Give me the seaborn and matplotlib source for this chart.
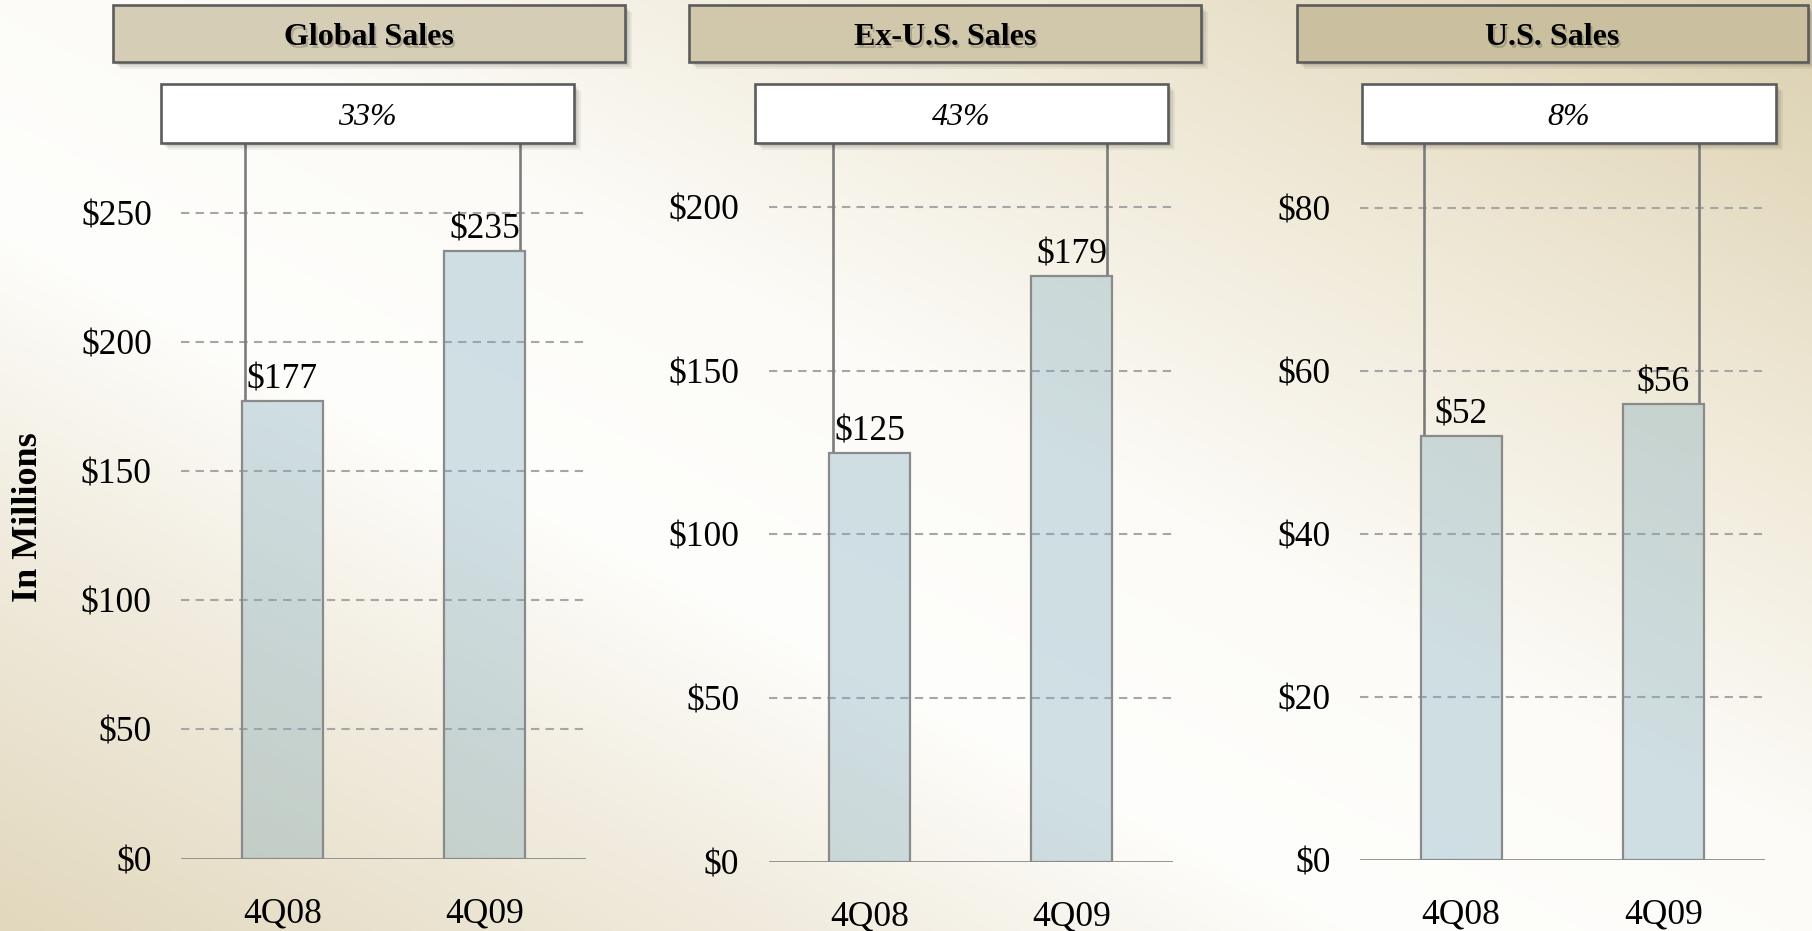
import numpy as np
import pandas as pd
import matplotlib
matplotlib.use("Agg")
import matplotlib.pyplot as plt
from matplotlib.colors import LinearSegmentedColormap
from matplotlib.patches import Rectangle
import seaborn as sns

# ---- data -------------------------------------------------------------
quarters = ["4Q08", "4Q09"]
global_sales = [177, 235]
ex_us_sales = [125, 179]
us_sales = [52, 56]
panel_titles = ["Global Sales", "Ex-U.S. Sales", "U.S. Sales"]
growth_labels = ["33%", "43%", "8%"]
y_ticks = [
    [0, 50, 100, 150, 200, 250],
    [0, 50, 100, 150, 200],
    [0, 20, 40, 60, 80],
]
y_label = "In Millions"

# ---- layout (pixels, origin top-left) ---------------------------------
W, H = 1812, 931
axes_px = [(181, 143.3, 586, 858.6), (768.5, 143.3, 1173, 862.1), (1360, 143.3, 1764.6, 859.8)]
y_tops = [276.8, 219.4, 87.94]
title_px = [(113, 5, 625, 62), (689, 5, 1201, 62), (1297, 5, 1808, 62)]
title_fill = ["#d5cdb5", "#d1c8ab", "#cac09f"]
growth_px = [(161, 84, 574, 143), (755, 84, 1168, 143), (1362, 84, 1776, 143)]

sns.set_theme(style="white")
plt.rcParams["font.family"] = ["Liberation Serif", "DejaVu Serif"]

fig = plt.figure(figsize=(W / 100, H / 100), dpi=100)


def fx(px):
    return px / W


def fy(py):
    return 1 - py / H


# ---- background gradient --------------------------------------------
bg_ax = fig.add_axes([0, 0, 1, 1], zorder=-10)
u = np.linspace(0, 1, 400)[None, :]
v = np.linspace(0, 1, 220)[:, None]
t = (u + (1 - v)) / 2
bg_cmap = LinearSegmentedColormap.from_list(
    "bg",
    [(0.0, "#e2d8bd"), (0.22, "#f1ecdf"), (0.38, "#fefefc"), (0.55, "#fcfbf7"),
     (0.78, "#eee7d4"), (1.0, "#dbd0b0")],
)
bg_ax.imshow(t, cmap=bg_cmap, aspect="auto", extent=[0, 1, 0, 1], vmin=0, vmax=1)
bg_ax.set_axis_off()


def box(x0, y0, x1, y1, face, zorder=2):
    # soft drop shadow
    for k, a in [(7, 0.05), (5, 0.07), (3, 0.09)]:
        fig.patches.append(Rectangle((fx(x0 + k), fy(y1 + k)), (x1 - x0) / W, (y1 - y0) / H,
                                     transform=fig.transFigure, facecolor="black", alpha=a,
                                     edgecolor="none", zorder=zorder - 1))
    fig.patches.append(Rectangle((fx(x0), fy(y1)), (x1 - x0) / W, (y1 - y0) / H,
                                 transform=fig.transFigure, facecolor=face,
                                 edgecolor="#5c5c5c", linewidth=1.9, zorder=zorder))


series = [global_sales, ex_us_sales, us_sales]
bar_rgba = (0.50, 0.67, 0.74, 0.36)

for i in range(3):
    x0, y0, x1, y1 = axes_px[i]
    ax = fig.add_axes([fx(x0), fy(y1), (x1 - x0) / W, (y1 - y0) / H])
    ax.set_facecolor("none")
    df = pd.DataFrame({"quarter": quarters, "sales": series[i]})
    sns.barplot(data=df, x="quarter", y="sales", ax=ax, width=0.4, saturation=1,
                color="#80abbd", zorder=3)
    for p in ax.patches:
        p.set_facecolor(bar_rgba)
        p.set_edgecolor("#8a8a8a")
        p.set_linewidth(1.6)

    ax.set_xlim(-0.5, 1.5)
    ax.set_ylim(0, y_tops[i])
    ax.set_yticks(y_ticks[i])
    ax.set_yticklabels([f"${v}" for v in y_ticks[i]])
    ax.set_xlabel("")
    ax.set_ylabel("")
    for s in ax.spines.values():
        s.set_visible(False)
    ax.tick_params(axis="y", length=0, pad=21, labelsize=25.5, labelcolor="black")
    ax.tick_params(axis="x", length=0, pad=28, labelsize=25.5, labelcolor="black")

    # dashed gridlines, solid baseline
    for v in y_ticks[i][1:]:
        ax.axhline(v, color="#a6a6a6", linewidth=1.5, linestyle=(0, (4, 3)), zorder=1)
    ax.axhline(0, color="#8a8a8a", linewidth=2.0, zorder=4)

    # connectors from bar tops up to the growth box
    vals = series[i]
    ax.plot([-0.183, -0.183], [vals[0], y_tops[i]], color="#7c7c7c", linewidth=1.9,
            clip_on=False, zorder=2, solid_capstyle="butt")
    ax.plot([1.174, 1.174], [vals[1], y_tops[i]], color="#7c7c7c", linewidth=1.9,
            clip_on=False, zorder=2, solid_capstyle="butt")

    # value labels
    for j, val in enumerate(vals):
        ax.annotate(f"${val}", (j, val), xytext=(0, 9), textcoords="offset points",
                    ha="center", va="baseline", fontsize=25.5, color="black", zorder=5)

    # title banner
    tx0, ty0, tx1, ty1 = title_px[i]
    box(tx0, ty0, tx1, ty1, title_fill[i])
    cx, cy = (tx0 + tx1) / 2, (ty0 + ty1) / 2 + 4
    fig.text(fx(cx + 2), fy(cy + 3), panel_titles[i], ha="center", va="center",
             fontsize=23, fontweight="bold", color="#000000", alpha=0.18, zorder=5)
    fig.text(fx(cx), fy(cy), panel_titles[i], ha="center", va="center",
             fontsize=23, fontweight="bold", color="black", zorder=6)

    # growth box
    gx0, gy0, gx1, gy1 = growth_px[i]
    box(gx0, gy0, gx1, gy1, "white")
    fig.text(fx((gx0 + gx1) / 2), fy((gy0 + gy1) / 2 + 4), growth_labels[i], ha="center",
             va="center", fontsize=23, fontstyle="italic", color="black", zorder=6)

fig.text(fx(29), fy(517), y_label, rotation=90, ha="center", va="center",
         fontsize=26, fontweight="bold", color="black")

fig.savefig("out.png", dpi=100)
